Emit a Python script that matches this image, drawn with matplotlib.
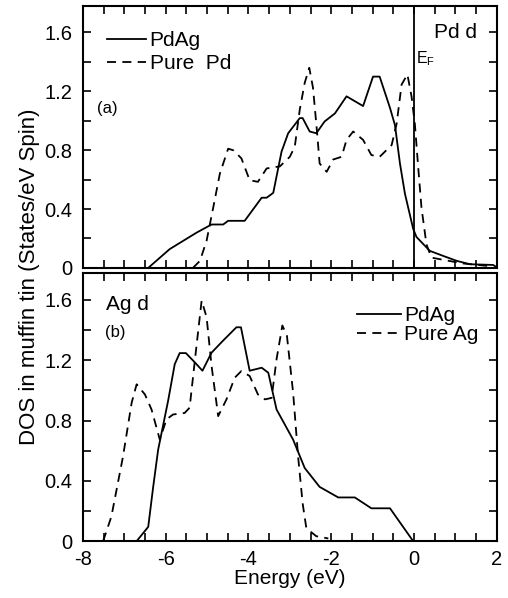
import matplotlib
matplotlib.use("Agg")
import matplotlib.pyplot as plt
from matplotlib.ticker import MultipleLocator

plt.rcParams['font.family'] = ['Liberation Sans', 'DejaVu Sans']

# Panel (a): Pd d
pdag_a_E = [-6.42, -5.90, -5.25, -4.89, -4.61, -4.49, -4.09, -3.68, -3.56, -3.40, -3.20, -3.04,
            -2.76, -2.69, -2.52, -2.36, -2.16, -1.91, -1.63, -1.23, -0.99, -0.83, -0.58, -0.46,
            -0.34, -0.22, -0.02, 0.06, 0.38, 0.70, 1.03, 1.35, 1.91, 2.0]
pdag_a_D = [0.0, 0.128, 0.24, 0.295, 0.295, 0.32, 0.32, 0.477, 0.477, 0.51, 0.79, 0.915,
            1.018, 1.018, 0.927, 0.915, 0.995, 1.05, 1.166, 1.10, 1.30, 1.30, 1.087, 0.97,
            0.71, 0.505, 0.265, 0.21, 0.116, 0.082, 0.048, 0.025, 0.02, 0.005]
purepd_E = [-5.34, -5.17, -5.01, -4.85, -4.69, -4.49, -4.37, -4.17, -3.97, -3.77, -3.56, -3.24,
            -3.00, -2.88, -2.76, -2.64, -2.53, -2.44, -2.34, -2.28, -2.11, -1.95, -1.75, -1.63,
            -1.47, -1.23, -1.03, -0.83, -0.54, -0.42, -0.30, -0.16, -0.06, 0.02, 0.10, 0.18,
            0.30, 0.42, 0.70, 1.19, 1.90]
purepd_D = [0.0, 0.048, 0.185, 0.41, 0.64, 0.81, 0.80, 0.745, 0.596, 0.585, 0.676, 0.69,
            0.755, 0.824, 1.075, 1.258, 1.36, 1.224, 0.916, 0.71, 0.653, 0.737, 0.755, 0.87,
            0.927, 0.87, 0.767, 0.755, 0.835, 0.98, 1.246, 1.315, 1.166, 0.98, 0.687, 0.41,
            0.16, 0.07, 0.055, 0.03, 0.01]

# Panel (b): Ag d
pdag_b_E = [-6.70, -6.42, -6.30, -6.18, -5.94, -5.78, -5.66, -5.51, -5.29, -5.11, -4.89, -4.61,
            -4.29, -4.18, -3.97, -3.68, -3.52, -3.32, -2.92, -2.64, -2.28, -1.83, -1.43, -1.03,
            -0.58, -0.02]
pdag_b_D = [0.0, 0.095, 0.36, 0.607, 0.93, 1.173, 1.247, 1.247, 1.184, 1.13, 1.25, 1.33,
            1.418, 1.418, 1.13, 1.15, 1.117, 0.873, 0.673, 0.485, 0.36, 0.29, 0.29, 0.218,
            0.218, 0.0]
pureag_E = [-7.51, -7.31, -7.03, -6.82, -6.70, -6.50, -6.34, -6.14, -5.98, -5.82, -5.54, -5.42,
            -5.29, -5.13, -5.01, -4.89, -4.73, -4.53, -4.33, -4.17, -3.97, -3.77, -3.60, -3.44,
            -3.32, -3.18, -3.07, -2.92, -2.80, -2.69, -2.60, -2.36, -2.07]
pureag_D = [0.0, 0.163, 0.56, 0.918, 1.04, 0.973, 0.873, 0.673, 0.807, 0.84, 0.85, 0.885,
            1.207, 1.595, 1.485, 1.162, 0.829, 0.94, 1.084, 1.128, 1.095, 0.973, 0.94, 0.95,
            1.207, 1.43, 1.362, 0.984, 0.562, 0.25, 0.085, 0.033, 0.018]

xticks = [-8, -6, -4, -2, 0, 2]
xticklabels = ['-8', '-6', '-4', '-2', '0', '2']
yticks = [0, 0.4, 0.8, 1.2, 1.6]
yticklabels = ['0', '0.4', '0.8', '1.2', '1.6']
fermi = 0.0

fig = plt.figure(figsize=(5.08, 5.98), dpi=100)
ax1 = fig.add_axes([0.163, 0.552, 0.815, 0.438])
ax2 = fig.add_axes([0.163, 0.095, 0.815, 0.449])

dash = (0, (5, 3.5))
lw = 1.3

ax1.plot(pdag_a_E, pdag_a_D, color='black', lw=lw, label='PdAg')
ax1.plot(purepd_E, purepd_D, color='black', lw=lw, linestyle=dash, label='Pure  Pd')
ax1.axvline(fermi, color='black', lw=1.3)
ax2.plot(pdag_b_E, pdag_b_D, color='black', lw=lw, label='PdAg')
ax2.plot(pureag_E, pureag_D, color='black', lw=lw, linestyle=dash, label='Pure Ag')

for ax in (ax1, ax2):
    ax.set_xlim(-8, 2)
    ax.set_ylim(0, 1.78)
    ax.set_xticks(xticks)
    ax.set_yticks(yticks)
    ax.set_yticklabels(yticklabels)
    ax.xaxis.set_minor_locator(MultipleLocator(0.5))
    ax.yaxis.set_minor_locator(MultipleLocator(0.2))
    ax.tick_params(which='both', direction='in', top=True, right=True, width=1.2,
                   labelsize=14.5, length=6)
    ax.tick_params(axis='y', pad=7.5)
    ax.tick_params(axis='x', pad=6)
    for s in ax.spines.values():
        s.set_linewidth(1.5)

ax1.set_xticklabels([])
ax2.set_xticklabels(xticklabels)
ax2.set_xlabel('Energy (eV)', fontsize=15, labelpad=0)

ax1.legend(loc='upper left', frameon=False, fontsize=15, handlelength=1.9,
           handletextpad=0.15, labelspacing=0.2, borderpad=0, borderaxespad=0,
           bbox_to_anchor=(0.058, 0.905))
ax2.legend(loc='upper right', frameon=False, fontsize=15, handlelength=2.1,
           handletextpad=0.15, labelspacing=0.0, borderpad=0, borderaxespad=0,
           bbox_to_anchor=(0.955, 0.875))

ax1.text(0.952, 0.90, 'Pd d', transform=ax1.transAxes, fontsize=15, ha='right', va='center')
ax1.text(0.05, 0.80, 'E$_\\mathregular{F}$', transform=ax1.get_xaxis_transform(),
         fontsize=11.5, ha='left', va='center')
ax1.text(0.034, 0.61, '(a)', transform=ax1.transAxes, fontsize=12, ha='left', va='center')
ax2.text(0.056, 0.88, 'Ag d', transform=ax2.transAxes, fontsize=15, ha='left', va='center')
ax2.text(0.053, 0.776, '(b)', transform=ax2.transAxes, fontsize=12, ha='left', va='center')

fig.text(0.059, 0.537, 'DOS in muffin tin (States/eV Spin)', rotation=90, fontsize=16,
         ha='center', va='center')

fig.savefig('out.png', dpi=100)
